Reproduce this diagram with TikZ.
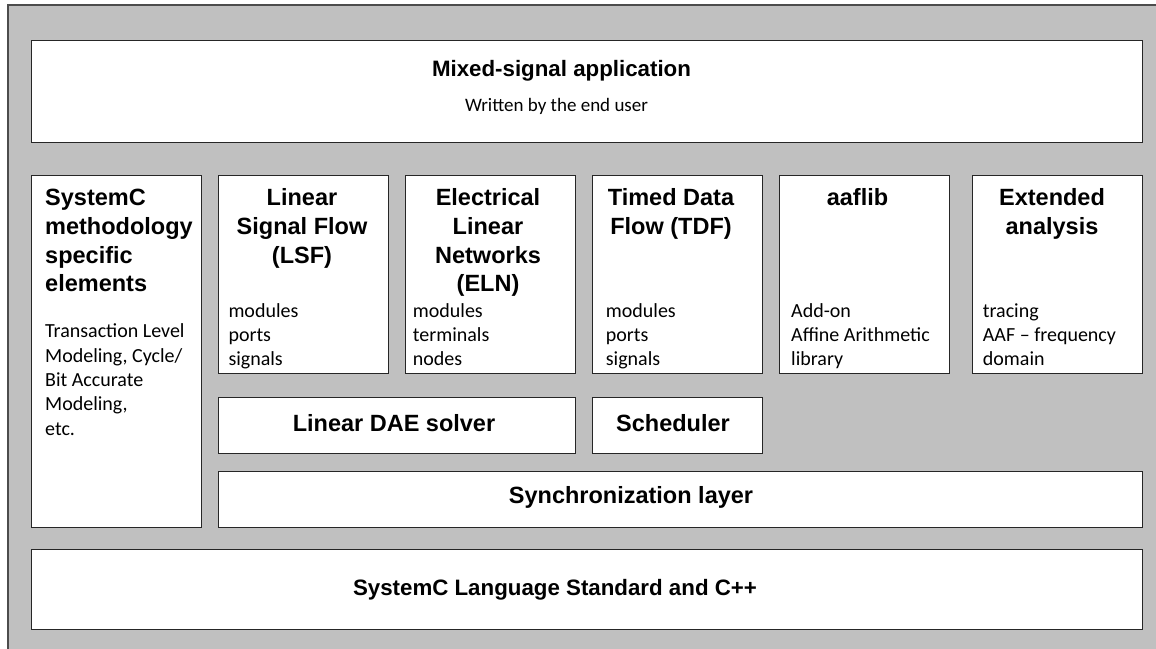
\documentclass[tikz,border=0pt]{standalone}
\usepackage{fontspec}
\setmainfont{Carlito}
\newfontfamily\hdfont{Liberation Sans}
\begin{document}
\begin{tikzpicture}[x=1pt,y=-1pt,
  panel/.style={draw=black!85,line width=1.2pt,fill=white,inner sep=0pt,anchor=north west},
  hd/.style={inner sep=0pt,anchor=base,align=center,font=\hdfont\bfseries\fontsize{23.5}{28.7}\selectfont},
  hdl/.style={inner sep=0pt,anchor=base west,align=left,font=\hdfont\bfseries\fontsize{23.5}{28.7}\selectfont},
  big/.style={inner sep=0pt,anchor=base,font=\hdfont\bfseries\fontsize{22.3}{27}\selectfont},
  body/.style={inner sep=0pt,anchor=base west,align=left,font=\fontsize{20}{24.35}\selectfont},
]
\useasboundingbox (0,0) rectangle (1156,648);
\fill[white] (0,0) rectangle (1156,648);
\fill[fill={rgb,255:red,192;green,192;blue,192}] (8,5) rectangle (1170,660);
\draw[line width=1.3pt,black!70] (8,660) -- (8,5) -- (1170,5);

% panels
\node[panel,minimum width=1111pt,minimum height=102pt] (app) at (31,40) {};
\node[panel,minimum width=170pt,minimum height=352pt] (meth) at (31,175) {};
\node[panel,minimum width=170pt,minimum height=198pt] (lsf) at (218,175) {};
\node[panel,minimum width=170pt,minimum height=198pt] (eln) at (405,175) {};
\node[panel,minimum width=170pt,minimum height=198pt] (tdf) at (592,175) {};
\node[panel,minimum width=170pt,minimum height=198pt] (aaf) at (779,175) {};
\node[panel,minimum width=170pt,minimum height=198pt] (ext) at (972,175) {};
\node[panel,minimum width=357pt,minimum height=56pt] (dae) at (218,397) {};
\node[panel,minimum width=170pt,minimum height=56pt] (sch) at (592,397) {};
\node[panel,minimum width=924pt,minimum height=56pt] (sync) at (218,471) {};
\node[panel,minimum width=1111pt,minimum height=80pt] (std) at (31,549) {};

% texts (base anchor = baseline of the last line)
\node[big] (appt) at (561.5,76.7) {Mixed-signal application};
\node[inner sep=0pt,anchor=base,font=\fontsize{19}{23}\selectfont] (apps) at (556.5,111.7) {Written by the end user};

\node[hdl] (metht) at (45,291.8) {SystemC\\methodology\\specific\\elements};
\node[body] (methb) at (45,435.1) {Transaction Level\\Modeling, Cycle/\\Bit Accurate\\Modeling,\\etc.};

\node[hd] (lsft) at (302,263.1) {Linear\\Signal Flow\\(LSF)};
\node[body] (lsfb) at (228.3,365.7) {modules\\ports\\signals};

\node[hd] (elnt) at (488,291.8) {Electrical\\Linear\\Networks\\(ELN)};
\node[body] (elnb) at (412.7,365.7) {modules\\terminals\\nodes};

\node[hd] (tdft) at (671,234.4) {Timed Data\\Flow (TDF)};
\node[body] (tdfb) at (605.7,365.7) {modules\\ports\\signals};

\node[hd] (aaft) at (857.5,205.7) {aaflib};
\node[body] (aafb) at (791,365.7) {Add-on\\Affine Arithmetic\\library};

\node[hd] (extt) at (1052,234.4) {Extended\\analysis};
\node[body] (extb) at (982.7,365.7) {tracing\\AAF – frequency\\domain};

\node[hd] (daet) at (394,431.7) {Linear DAE solver};
\node[hd] (scht) at (673,431.7) {Scheduler};
\node[hd] (synct) at (631,503.3) {Synchronization layer};
\node[big] (stdt) at (555,595) {SystemC Language Standard and C++};
\end{tikzpicture}
\end{document}
